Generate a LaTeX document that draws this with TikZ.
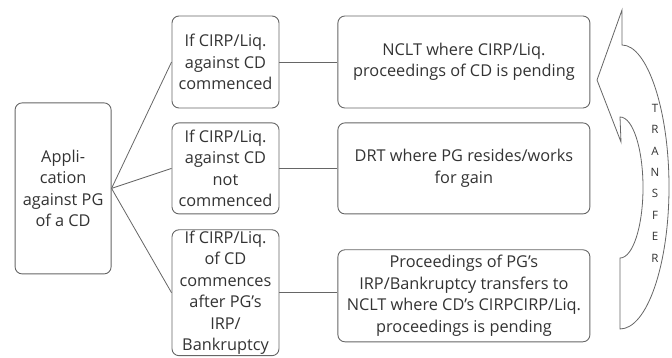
\documentclass[tikz,border=0pt]{standalone}
\usepackage{fontspec}
\setmainfont{Open Sans}
\usetikzlibrary{positioning}

\begin{document}
\begin{tikzpicture}[
  x=1pt, y=-1pt,
  font=\fontsize{16.3}{21.5}\selectfont, text=black!80,
  box/.style={draw=black!60, rounded corners=7pt, align=center, inner sep=1pt, fill=white, line width=0.9pt},
  mid/.style={box, minimum width=107pt},
  res/.style={box, minimum width=252pt, minimum height=92pt},
  link/.style={draw=black!60, line width=0.8pt},
  node distance=14pt and 58pt]
\useasboundingbox (0,0) rectangle (672,358);
\node[mid, minimum height=92pt] (c1) at (225.5,62) {If CIRP/Liq.\\against CD\\commenced};
\node[mid, minimum height=91pt, below=of c1] (c2) {If CIRP/Liq.\\against CD\\not\\commenced};
\node[mid, minimum height=124pt, below=15pt of c2] (c3) {If CIRP/Liq.\\of CD\\commences\\after PG's\\IRP/\\Bankruptcy};
\node[box, minimum width=96pt, minimum height=171pt, left=60pt of c2, yshift=-20pt] (app) {Appli-\\cation\\against PG\\of a CD};
\node[res, right=of c1] (r1) {NCLT where CIRP/Liq.\\proceedings of CD is pending};
\node[res, minimum height=91pt, right=of c2] (r2) {DRT where PG resides/works\\for gain};
\node[res, below=35pt of r2] (r3) {Proceedings of PG's\\IRP/Bankruptcy transfers to\\NCLT where CD's CIRPCIRP/Liq.\\proceedings is pending};
\draw[link] (app.east) -- (c1.west);
\draw[link] (app.east) -- (c2.west);
\draw[link] (app.east) -- (c3.west);
\draw[link] (c1) -- (r1);
\draw[link] (c2) -- (r2);
\draw[link] (c3.east) -- (c3.east -| r3.west);
% curved transfer arrow
\draw[link, fill=white] (622,10) -- (622,45)
  .. controls (647,45) and (669,109) .. (669,187)
  .. controls (669,265) and (647,329) .. (620,329)
  -- (620,258)
  .. controls (633,258) and (643,226) .. (643,187.5)
  .. controls (643,149) and (633,117) .. (620,117)
  -- (621,142) -- (597,80) -- cycle;
\node[font=\fontsize{11.5}{21.4}\selectfont, align=center] (tr) at (655,183) {T\\R\\A\\N\\S\\F\\E\\R};
\end{tikzpicture}
\end{document}
